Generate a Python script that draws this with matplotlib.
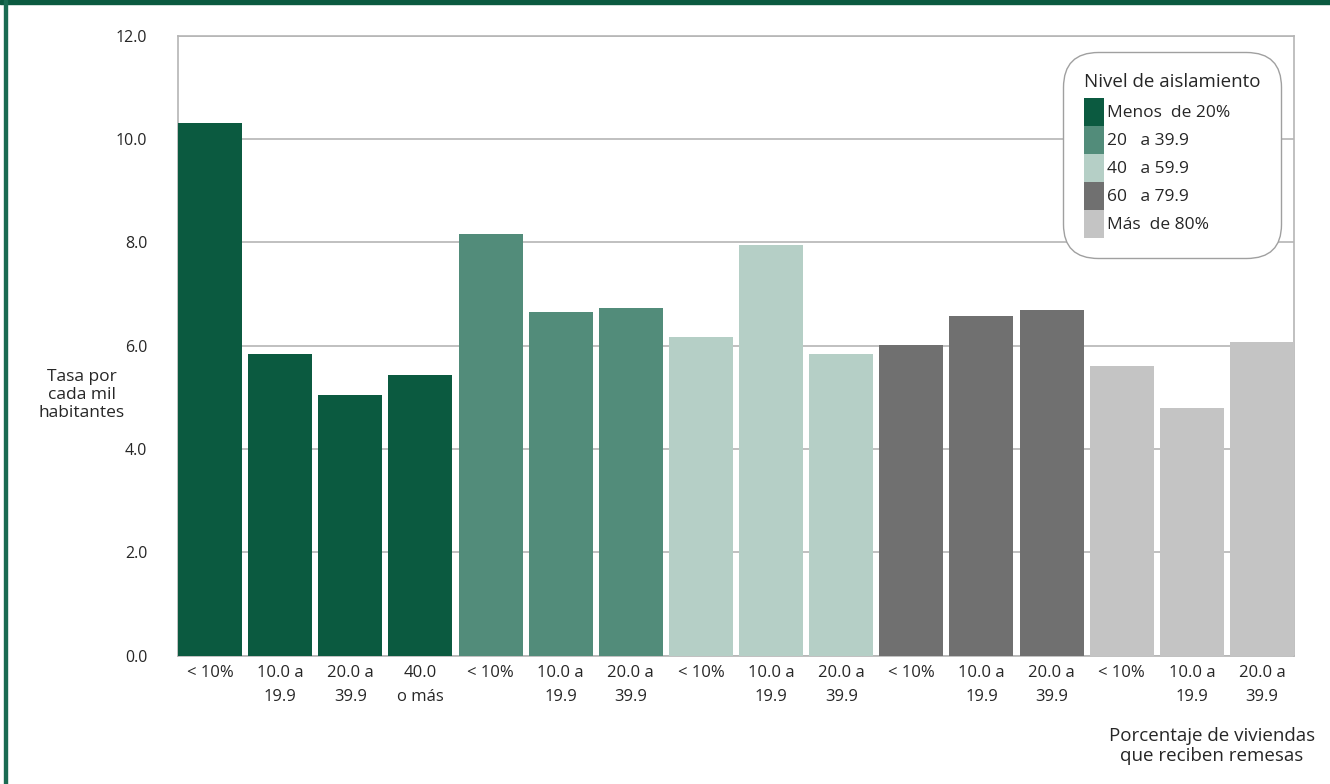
import matplotlib.pyplot as plt
from matplotlib.patches import Patch, Rectangle
import numpy as np

plt.rcParams['font.family'] = ['Open Sans', 'DejaVu Sans']

# data
grupos = ['Menos  de 20%', '20   a 39.9', '40   a 59.9', '60   a 79.9', 'Más  de 80%']
colores = ['#0B5A40', '#528C7A', '#B5CFC6', '#707070', '#C4C4C4']
etiquetas = ['< 10%', '10.0 a\n19.9', '20.0 a\n39.9', '40.0\no más',
             '< 10%', '10.0 a\n19.9', '20.0 a\n39.9',
             '< 10%', '10.0 a\n19.9', '20.0 a\n39.9',
             '< 10%', '10.0 a\n19.9', '20.0 a\n39.9',
             '< 10%', '10.0 a\n19.9', '20.0 a\n39.9']
grupo_barra = [0, 0, 0, 0, 1, 1, 1, 2, 2, 2, 3, 3, 3, 4, 4, 4]
tasas = [10.30, 5.84, 5.04, 5.43, 8.16, 6.65, 6.72, 6.16, 7.95, 5.84,
         6.01, 6.57, 6.69, 5.60, 4.79, 6.07]

txt = '#262626'
gris = '#B5B5B5'

fig = plt.figure(figsize=(13.3, 7.84), dpi=100)
ax = fig.add_axes([178/1330, 1-655.7/784, (1294-178)/1330, (655.7-35.6)/784])

w = 0.9125
x = np.arange(len(tasas))
ax.bar(x, tasas, width=w, color=[colores[g] for g in grupo_barra], zorder=3)
ax.set_xlim(-w/2, len(tasas)-1+w/2)
ax.set_ylim(0, 12)
ax.set_yticks(np.arange(0, 12.1, 2))
ax.set_yticklabels([f'{v:.1f}' for v in np.arange(0, 12.1, 2)])
ax.set_xticks(x)
ax.set_xticklabels(etiquetas, linespacing=1.65)
ax.tick_params(axis='y', length=0, pad=22, labelsize=11.5, labelcolor=txt)
ax.tick_params(axis='x', length=0, pad=7, labelsize=12, labelcolor=txt)
ax.grid(axis='y', color=gris, linewidth=1.2, zorder=0)
for s in ax.spines.values():
    s.set_color(gris)
    s.set_linewidth(1.2)

fig.text(82/1330, 1-395/784, 'Tasa por\ncada mil\nhabitantes', ha='center', va='center',
         fontsize=12.5, color=txt, linespacing=1.2)
fig.text(1212/1330, 1-746/784, 'Porcentaje de viviendas\nque reciben remesas', ha='center',
         va='center', fontsize=13.5, color=txt, linespacing=1.15)

handles = [Patch(facecolor=c, edgecolor='none') for c in colores]
leg = ax.legend(handles, grupos, title='Nivel de aislamiento', loc='upper right',
                bbox_to_anchor=(1281/1330, 1-52/784), bbox_transform=fig.transFigure,
                borderaxespad=0, fontsize=12.5, title_fontsize=13.5, labelspacing=0,
                handlelength=1.15, handleheight=2.1, handletextpad=0.2,
                borderpad=1.2, alignment='left', frameon=True, framealpha=1)
leg.get_frame().set_edgecolor('#A0A0A0')
leg.get_frame().set_linewidth(1.0)
leg.get_frame().set_boxstyle('round,pad=0,rounding_size=2.0')
leg._legend_box.sep = 5
for t in leg.get_texts():
    t.set_color(txt)
leg.get_title().set_color(txt)

# green frame
fig.add_artist(Rectangle((0, 1-4/784), 1, 4/784, transform=fig.transFigure,
                         color='#0B5A40', zorder=10))
fig.add_artist(Rectangle((4/1330, 0), 3/1330, 1, transform=fig.transFigure,
                         color='#1A6B52', zorder=10))

fig.savefig('out.png', dpi=100)
